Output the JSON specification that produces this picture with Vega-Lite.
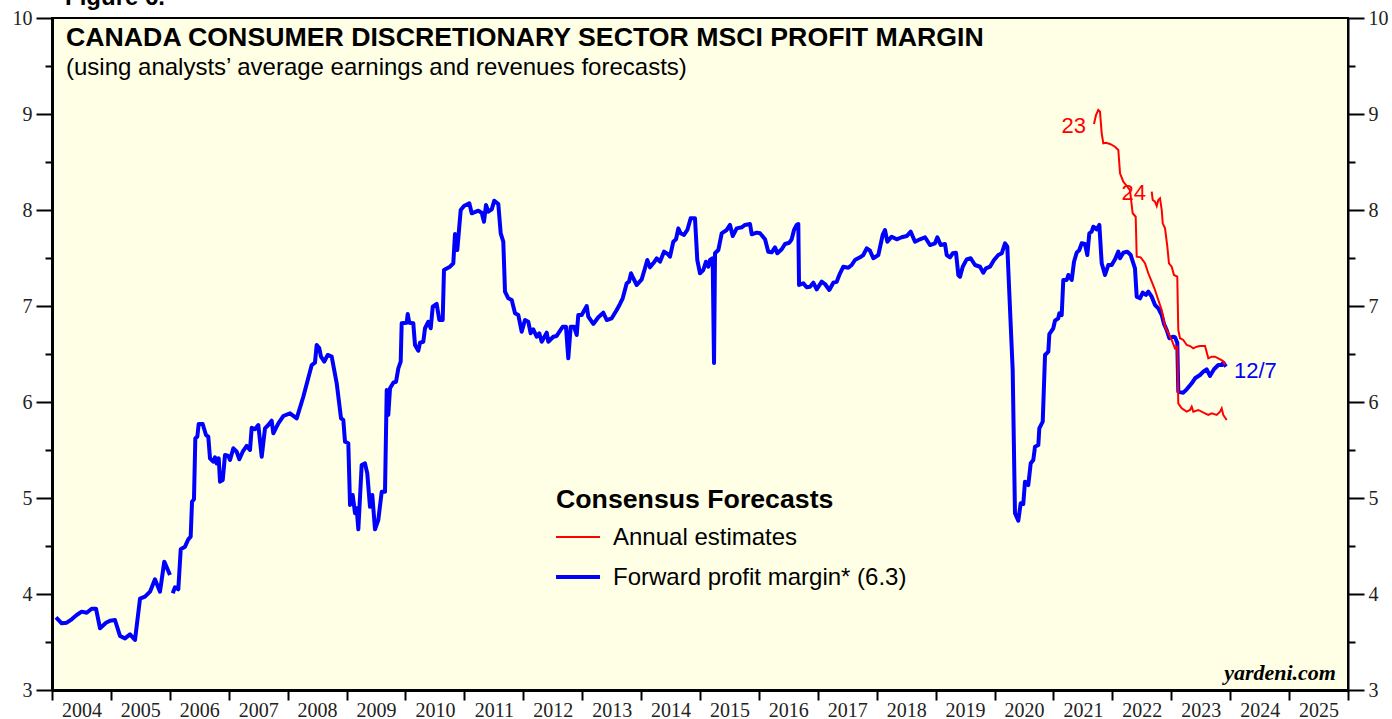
{
"$schema": "https://vega.github.io/schema/vega-lite/v6.json",
"width": 1296, "height": 672,
"autosize": "none",
"padding": {"left": 52, "top": 18, "right": 44, "bottom": 29},
"background": "white",
"view": {"fill": "#ffffe5", "stroke": "black", "strokeWidth": 2},
"config": {"font": "Liberation Sans", "axis": {"grid": false, "labelFont": "Liberation Serif", "labelFontSize": 20, "labelColor": "#222222", "tickColor": "black", "domainColor": "black"}},
"datasets": {
"fwd": [
{"t":2004.068,"v":3.757,"s":"a"},{"t":2004.165,"v":3.695,"s":"a"},{"t":2004.250,"v":3.701,"s":"a"},{"t":2004.334,"v":3.736,"s":"a"},{"t":2004.419,"v":3.781,"s":"a"},{"t":2004.504,"v":3.816,"s":"a"},{"t":2004.589,"v":3.805,"s":"a"},{"t":2004.674,"v":3.847,"s":"a"},{"t":2004.747,"v":3.847,"s":"a"},{"t":2004.815,"v":3.643,"s":"a"},{"t":2004.917,"v":3.701,"s":"a"},{"t":2004.985,"v":3.722,"s":"a"},{"t":2005.069,"v":3.729,"s":"a"},{"t":2005.154,"v":3.563,"s":"a"},{"t":2005.239,"v":3.538,"s":"a"},{"t":2005.324,"v":3.580,"s":"a"},{"t":2005.409,"v":3.521,"s":"a"},{"t":2005.494,"v":3.951,"s":"a"},{"t":2005.579,"v":3.972,"s":"a"},{"t":2005.664,"v":4.024,"s":"a"},{"t":2005.748,"v":4.153,"s":"a"},{"t":2005.833,"v":4.024,"s":"a"},{"t":2005.906,"v":4.337,"s":"a"},{"t":2006.003,"v":4.198,"s":"a"},
{"t":2006.049,"v":4.007,"s":"b"},{"t":2006.088,"v":4.070,"s":"b"},{"t":2006.144,"v":4.049,"s":"b"},{"t":2006.185,"v":4.466,"s":"b"},{"t":2006.258,"v":4.493,"s":"b"},{"t":2006.314,"v":4.570,"s":"b"},{"t":2006.354,"v":4.597,"s":"b"},{"t":2006.377,"v":4.961,"s":"b"},{"t":2006.410,"v":4.986,"s":"b"},{"t":2006.433,"v":5.622,"s":"b"},{"t":2006.467,"v":5.639,"s":"b"},{"t":2006.490,"v":5.771,"s":"b"},{"t":2006.558,"v":5.771,"s":"b"},{"t":2006.614,"v":5.656,"s":"b"},{"t":2006.653,"v":5.639,"s":"b"},{"t":2006.682,"v":5.414,"s":"b"},{"t":2006.738,"v":5.378,"s":"b"},{"t":2006.767,"v":5.424,"s":"b"},{"t":2006.796,"v":5.361,"s":"b"},{"t":2006.830,"v":5.414,"s":"b"},{"t":2006.852,"v":5.170,"s":"b"},{"t":2006.898,"v":5.188,"s":"b"},{"t":2006.937,"v":5.448,"s":"b"},{"t":2006.993,"v":5.438,"s":"b"},{"t":2007.022,"v":5.396,"s":"b"},{"t":2007.078,"v":5.518,"s":"b"},{"t":2007.135,"v":5.482,"s":"b"},{"t":2007.180,"v":5.403,"s":"b"},{"t":2007.237,"v":5.482,"s":"b"},{"t":2007.305,"v":5.542,"s":"b"},{"t":2007.361,"v":5.500,"s":"b"},{"t":2007.390,"v":5.732,"s":"b"},{"t":2007.446,"v":5.716,"s":"b"},{"t":2007.502,"v":5.760,"s":"b"},{"t":2007.560,"v":5.430,"s":"b"},{"t":2007.616,"v":5.726,"s":"b"},{"t":2007.672,"v":5.760,"s":"b"},{"t":2007.729,"v":5.805,"s":"b"},{"t":2007.757,"v":5.674,"s":"b"},{"t":2007.842,"v":5.778,"s":"b"},{"t":2007.926,"v":5.854,"s":"b"},{"t":2008.040,"v":5.882,"s":"b"},{"t":2008.154,"v":5.830,"s":"b"},{"t":2008.266,"v":6.055,"s":"b"},{"t":2008.409,"v":6.385,"s":"b"},{"t":2008.464,"v":6.409,"s":"b"},{"t":2008.493,"v":6.594,"s":"b"},{"t":2008.538,"v":6.559,"s":"b"},{"t":2008.566,"v":6.472,"s":"b"},{"t":2008.622,"v":6.420,"s":"b"},{"t":2008.680,"v":6.490,"s":"b"},{"t":2008.748,"v":6.472,"s":"b"},{"t":2008.833,"v":6.195,"s":"b"},{"t":2008.906,"v":5.830,"s":"b"},{"t":2008.945,"v":5.813,"s":"b"},{"t":2008.974,"v":5.586,"s":"b"},{"t":2009.030,"v":5.570,"s":"b"},{"t":2009.059,"v":4.927,"s":"b"},{"t":2009.104,"v":5.031,"s":"b"},{"t":2009.144,"v":4.841,"s":"b"},{"t":2009.172,"v":4.893,"s":"b"},{"t":2009.200,"v":4.674,"s":"b"},{"t":2009.257,"v":5.344,"s":"b"},{"t":2009.313,"v":5.361,"s":"b"},{"t":2009.352,"v":5.257,"s":"b"},{"t":2009.398,"v":4.909,"s":"b"},{"t":2009.437,"v":5.031,"s":"b"},{"t":2009.483,"v":4.674,"s":"b"},{"t":2009.539,"v":4.771,"s":"b"},{"t":2009.597,"v":5.066,"s":"b"},{"t":2009.653,"v":5.066,"s":"b"},{"t":2009.682,"v":6.125,"s":"b"},{"t":2009.709,"v":5.865,"s":"b"},{"t":2009.738,"v":6.143,"s":"b"},{"t":2009.794,"v":6.201,"s":"b"},{"t":2009.840,"v":6.211,"s":"b"},{"t":2009.879,"v":6.351,"s":"b"},{"t":2009.919,"v":6.420,"s":"b"},{"t":2009.936,"v":6.820,"s":"b"},{"t":2010.021,"v":6.826,"s":"b"},{"t":2010.038,"v":6.917,"s":"b"},{"t":2010.065,"v":6.826,"s":"b"},{"t":2010.133,"v":6.820,"s":"b"},{"t":2010.162,"v":6.594,"s":"b"},{"t":2010.218,"v":6.534,"s":"b"},{"t":2010.247,"v":6.618,"s":"b"},{"t":2010.303,"v":6.628,"s":"b"},{"t":2010.332,"v":6.768,"s":"b"},{"t":2010.388,"v":6.836,"s":"b"},{"t":2010.429,"v":6.768,"s":"b"},{"t":2010.463,"v":6.993,"s":"b"},{"t":2010.530,"v":7.021,"s":"b"},{"t":2010.575,"v":6.854,"s":"b"},{"t":2010.632,"v":6.854,"s":"b"},{"t":2010.654,"v":7.375,"s":"b"},{"t":2010.756,"v":7.409,"s":"b"},{"t":2010.812,"v":7.445,"s":"b"},{"t":2010.841,"v":7.750,"s":"b"},{"t":2010.880,"v":7.583,"s":"b"},{"t":2010.938,"v":8.000,"s":"b"},{"t":2010.994,"v":8.042,"s":"b"},{"t":2011.084,"v":8.070,"s":"b"},{"t":2011.125,"v":7.966,"s":"b"},{"t":2011.237,"v":7.993,"s":"b"},{"t":2011.294,"v":7.972,"s":"b"},{"t":2011.333,"v":7.878,"s":"b"},{"t":2011.367,"v":8.052,"s":"b"},{"t":2011.406,"v":7.982,"s":"b"},{"t":2011.464,"v":8.007,"s":"b"},{"t":2011.508,"v":8.097,"s":"b"},{"t":2011.576,"v":8.063,"s":"b"},{"t":2011.617,"v":7.757,"s":"b"},{"t":2011.661,"v":7.670,"s":"b"},{"t":2011.690,"v":7.149,"s":"b"},{"t":2011.746,"v":7.080,"s":"b"},{"t":2011.804,"v":7.063,"s":"b"},{"t":2011.860,"v":6.924,"s":"b"},{"t":2011.916,"v":6.906,"s":"b"},{"t":2011.973,"v":6.732,"s":"b"},{"t":2012.029,"v":6.854,"s":"b"},{"t":2012.085,"v":6.836,"s":"b"},{"t":2012.126,"v":6.716,"s":"b"},{"t":2012.170,"v":6.757,"s":"b"},{"t":2012.228,"v":6.680,"s":"b"},{"t":2012.272,"v":6.716,"s":"b"},{"t":2012.313,"v":6.628,"s":"b"},{"t":2012.398,"v":6.722,"s":"b"},{"t":2012.425,"v":6.628,"s":"b"},{"t":2012.510,"v":6.680,"s":"b"},{"t":2012.567,"v":6.688,"s":"b"},{"t":2012.669,"v":6.784,"s":"b"},{"t":2012.725,"v":6.784,"s":"b"},{"t":2012.764,"v":6.455,"s":"b"},{"t":2012.805,"v":6.784,"s":"b"},{"t":2012.861,"v":6.784,"s":"b"},{"t":2012.907,"v":6.698,"s":"b"},{"t":2012.934,"v":6.906,"s":"b"},{"t":2012.992,"v":6.906,"s":"b"},{"t":2013.077,"v":7.000,"s":"b"},{"t":2013.104,"v":6.889,"s":"b"},{"t":2013.189,"v":6.813,"s":"b"},{"t":2013.274,"v":6.882,"s":"b"},{"t":2013.359,"v":6.930,"s":"b"},{"t":2013.416,"v":6.854,"s":"b"},{"t":2013.501,"v":6.872,"s":"b"},{"t":2013.586,"v":6.958,"s":"b"},{"t":2013.642,"v":7.021,"s":"b"},{"t":2013.688,"v":7.080,"s":"b"},{"t":2013.756,"v":7.236,"s":"b"},{"t":2013.795,"v":7.253,"s":"b"},{"t":2013.829,"v":7.341,"s":"b"},{"t":2013.868,"v":7.289,"s":"b"},{"t":2013.926,"v":7.219,"s":"b"},{"t":2014.010,"v":7.278,"s":"b"},{"t":2014.066,"v":7.393,"s":"b"},{"t":2014.105,"v":7.479,"s":"b"},{"t":2014.151,"v":7.403,"s":"b"},{"t":2014.207,"v":7.445,"s":"b"},{"t":2014.265,"v":7.497,"s":"b"},{"t":2014.321,"v":7.461,"s":"b"},{"t":2014.389,"v":7.566,"s":"b"},{"t":2014.452,"v":7.542,"s":"b"},{"t":2014.491,"v":7.514,"s":"b"},{"t":2014.547,"v":7.670,"s":"b"},{"t":2014.593,"v":7.695,"s":"b"},{"t":2014.632,"v":7.809,"s":"b"},{"t":2014.672,"v":7.757,"s":"b"},{"t":2014.728,"v":7.740,"s":"b"},{"t":2014.785,"v":7.792,"s":"b"},{"t":2014.842,"v":7.914,"s":"b"},{"t":2014.915,"v":7.914,"s":"b"},{"t":2014.954,"v":7.479,"s":"b"},{"t":2015.000,"v":7.341,"s":"b"},{"t":2015.056,"v":7.375,"s":"b"},{"t":2015.102,"v":7.461,"s":"b"},{"t":2015.141,"v":7.409,"s":"b"},{"t":2015.170,"v":7.479,"s":"b"},{"t":2015.215,"v":7.497,"s":"b"},{"t":2015.238,"v":6.406,"s":"b"},{"t":2015.255,"v":7.549,"s":"b"},{"t":2015.311,"v":7.583,"s":"b"},{"t":2015.368,"v":7.757,"s":"b"},{"t":2015.453,"v":7.792,"s":"b"},{"t":2015.509,"v":7.844,"s":"b"},{"t":2015.555,"v":7.729,"s":"b"},{"t":2015.623,"v":7.809,"s":"b"},{"t":2015.708,"v":7.820,"s":"b"},{"t":2015.764,"v":7.844,"s":"b"},{"t":2015.849,"v":7.854,"s":"b"},{"t":2015.878,"v":7.747,"s":"b"},{"t":2015.963,"v":7.764,"s":"b"},{"t":2016.019,"v":7.757,"s":"b"},{"t":2016.104,"v":7.695,"s":"b"},{"t":2016.159,"v":7.566,"s":"b"},{"t":2016.217,"v":7.559,"s":"b"},{"t":2016.273,"v":7.611,"s":"b"},{"t":2016.312,"v":7.549,"s":"b"},{"t":2016.387,"v":7.591,"s":"b"},{"t":2016.443,"v":7.646,"s":"b"},{"t":2016.516,"v":7.659,"s":"b"},{"t":2016.556,"v":7.695,"s":"b"},{"t":2016.596,"v":7.792,"s":"b"},{"t":2016.641,"v":7.844,"s":"b"},{"t":2016.669,"v":7.854,"s":"b"},{"t":2016.681,"v":7.219,"s":"b"},{"t":2016.754,"v":7.236,"s":"b"},{"t":2016.811,"v":7.195,"s":"b"},{"t":2016.867,"v":7.201,"s":"b"},{"t":2016.924,"v":7.243,"s":"b"},{"t":2016.981,"v":7.174,"s":"b"},{"t":2017.066,"v":7.253,"s":"b"},{"t":2017.122,"v":7.229,"s":"b"},{"t":2017.195,"v":7.167,"s":"b"},{"t":2017.263,"v":7.243,"s":"b"},{"t":2017.320,"v":7.253,"s":"b"},{"t":2017.365,"v":7.323,"s":"b"},{"t":2017.433,"v":7.409,"s":"b"},{"t":2017.518,"v":7.399,"s":"b"},{"t":2017.575,"v":7.427,"s":"b"},{"t":2017.631,"v":7.479,"s":"b"},{"t":2017.716,"v":7.507,"s":"b"},{"t":2017.772,"v":7.531,"s":"b"},{"t":2017.830,"v":7.601,"s":"b"},{"t":2017.886,"v":7.576,"s":"b"},{"t":2017.942,"v":7.497,"s":"b"},{"t":2018.027,"v":7.531,"s":"b"},{"t":2018.101,"v":7.740,"s":"b"},{"t":2018.140,"v":7.792,"s":"b"},{"t":2018.180,"v":7.670,"s":"b"},{"t":2018.254,"v":7.722,"s":"b"},{"t":2018.339,"v":7.695,"s":"b"},{"t":2018.424,"v":7.716,"s":"b"},{"t":2018.509,"v":7.729,"s":"b"},{"t":2018.577,"v":7.774,"s":"b"},{"t":2018.650,"v":7.670,"s":"b"},{"t":2018.735,"v":7.695,"s":"b"},{"t":2018.820,"v":7.716,"s":"b"},{"t":2018.904,"v":7.635,"s":"b"},{"t":2018.989,"v":7.653,"s":"b"},{"t":2019.029,"v":7.716,"s":"b"},{"t":2019.086,"v":7.635,"s":"b"},{"t":2019.159,"v":7.646,"s":"b"},{"t":2019.188,"v":7.531,"s":"b"},{"t":2019.244,"v":7.507,"s":"b"},{"t":2019.290,"v":7.549,"s":"b"},{"t":2019.346,"v":7.555,"s":"b"},{"t":2019.385,"v":7.323,"s":"b"},{"t":2019.414,"v":7.305,"s":"b"},{"t":2019.460,"v":7.409,"s":"b"},{"t":2019.527,"v":7.486,"s":"b"},{"t":2019.595,"v":7.497,"s":"b"},{"t":2019.668,"v":7.427,"s":"b"},{"t":2019.753,"v":7.409,"s":"b"},{"t":2019.809,"v":7.347,"s":"b"},{"t":2019.855,"v":7.393,"s":"b"},{"t":2019.923,"v":7.409,"s":"b"},{"t":2019.991,"v":7.479,"s":"b"},{"t":2020.064,"v":7.531,"s":"b"},{"t":2020.122,"v":7.549,"s":"b"},{"t":2020.178,"v":7.653,"s":"b"},{"t":2020.217,"v":7.618,"s":"b"},{"t":2020.251,"v":7.132,"s":"b"},{"t":2020.308,"v":6.333,"s":"b"},{"t":2020.347,"v":4.841,"s":"b"},{"t":2020.403,"v":4.764,"s":"b"},{"t":2020.444,"v":4.945,"s":"b"},{"t":2020.488,"v":4.938,"s":"b"},{"t":2020.517,"v":5.170,"s":"b"},{"t":2020.573,"v":5.135,"s":"b"},{"t":2020.614,"v":5.361,"s":"b"},{"t":2020.658,"v":5.396,"s":"b"},{"t":2020.687,"v":5.534,"s":"b"},{"t":2020.743,"v":5.552,"s":"b"},{"t":2020.760,"v":5.726,"s":"b"},{"t":2020.818,"v":5.795,"s":"b"},{"t":2020.857,"v":6.490,"s":"b"},{"t":2020.913,"v":6.524,"s":"b"},{"t":2020.930,"v":6.708,"s":"b"},{"t":2020.997,"v":6.768,"s":"b"},{"t":2021.026,"v":6.847,"s":"b"},{"t":2021.082,"v":6.872,"s":"b"},{"t":2021.099,"v":6.924,"s":"b"},{"t":2021.140,"v":6.906,"s":"b"},{"t":2021.167,"v":7.271,"s":"b"},{"t":2021.225,"v":7.271,"s":"b"},{"t":2021.252,"v":7.323,"s":"b"},{"t":2021.310,"v":7.271,"s":"b"},{"t":2021.349,"v":7.461,"s":"b"},{"t":2021.394,"v":7.555,"s":"b"},{"t":2021.439,"v":7.583,"s":"b"},{"t":2021.479,"v":7.653,"s":"b"},{"t":2021.535,"v":7.646,"s":"b"},{"t":2021.575,"v":7.531,"s":"b"},{"t":2021.609,"v":7.757,"s":"b"},{"t":2021.649,"v":7.774,"s":"b"},{"t":2021.677,"v":7.826,"s":"b"},{"t":2021.734,"v":7.799,"s":"b"},{"t":2021.779,"v":7.844,"s":"b"},{"t":2021.819,"v":7.445,"s":"b"},{"t":2021.875,"v":7.323,"s":"b"},{"t":2021.931,"v":7.427,"s":"b"},{"t":2021.989,"v":7.427,"s":"b"},{"t":2022.045,"v":7.486,"s":"b"},{"t":2022.101,"v":7.566,"s":"b"},{"t":2022.130,"v":7.497,"s":"b"},{"t":2022.186,"v":7.555,"s":"b"},{"t":2022.254,"v":7.566,"s":"b"},{"t":2022.311,"v":7.531,"s":"b"},{"t":2022.384,"v":7.393,"s":"b"},{"t":2022.413,"v":7.097,"s":"b"},{"t":2022.469,"v":7.080,"s":"b"},{"t":2022.515,"v":7.139,"s":"b"},{"t":2022.571,"v":7.115,"s":"b"},{"t":2022.610,"v":7.149,"s":"b"},{"t":2022.668,"v":7.097,"s":"b"},{"t":2022.724,"v":7.010,"s":"b"},{"t":2022.780,"v":6.976,"s":"b"},{"t":2022.838,"v":6.906,"s":"b"},{"t":2022.877,"v":6.813,"s":"b"},{"t":2022.922,"v":6.750,"s":"b"},{"t":2022.967,"v":6.664,"s":"b"},{"t":2023.024,"v":6.680,"s":"b"},{"t":2023.063,"v":6.674,"s":"b"},{"t":2023.102,"v":6.618,"s":"b"},{"t":2023.119,"v":6.107,"s":"b"},{"t":2023.204,"v":6.097,"s":"b"},{"t":2023.262,"v":6.132,"s":"b"},{"t":2023.347,"v":6.195,"s":"b"},{"t":2023.403,"v":6.247,"s":"b"},{"t":2023.488,"v":6.281,"s":"b"},{"t":2023.544,"v":6.316,"s":"b"},{"t":2023.601,"v":6.341,"s":"b"},{"t":2023.657,"v":6.271,"s":"b"},{"t":2023.725,"v":6.341,"s":"b"},{"t":2023.798,"v":6.385,"s":"b"},{"t":2023.856,"v":6.385,"s":"b"},{"t":2023.883,"v":6.409,"s":"b"},{"t":2023.929,"v":6.368,"s":"b"}
],
"est": [
{"t":2021.688,"v":8.896,"yr":"2023"},{"t":2021.722,"v":8.990,"yr":"2023"},{"t":2021.761,"v":9.042,"yr":"2023"},{"t":2021.790,"v":9.024,"yr":"2023"},{"t":2021.819,"v":8.799,"yr":"2023"},{"t":2021.846,"v":8.695,"yr":"2023"},{"t":2021.892,"v":8.701,"yr":"2023"},{"t":2021.960,"v":8.688,"yr":"2023"},{"t":2022.045,"v":8.659,"yr":"2023"},{"t":2022.101,"v":8.625,"yr":"2023"},{"t":2022.130,"v":8.382,"yr":"2023"},{"t":2022.186,"v":8.295,"yr":"2023"},{"t":2022.244,"v":8.250,"yr":"2023"},{"t":2022.299,"v":8.208,"yr":"2023"},{"t":2022.345,"v":7.966,"yr":"2023"},{"t":2022.396,"v":7.930,"yr":"2023"},{"t":2022.413,"v":7.514,"yr":"2023"},{"t":2022.481,"v":7.507,"yr":"2023"},{"t":2022.554,"v":7.445,"yr":"2023"},{"t":2022.610,"v":7.341,"yr":"2023"},{"t":2022.668,"v":7.253,"yr":"2023"},{"t":2022.724,"v":7.167,"yr":"2023"},{"t":2022.780,"v":7.063,"yr":"2023"},{"t":2022.838,"v":6.958,"yr":"2023"},{"t":2022.894,"v":6.784,"yr":"2023"},{"t":2022.950,"v":6.716,"yr":"2023"},{"t":2023.007,"v":6.646,"yr":"2023"},{"t":2023.063,"v":6.559,"yr":"2023"},{"t":2023.102,"v":6.576,"yr":"2023"},{"t":2023.119,"v":5.986,"yr":"2023"},{"t":2023.177,"v":5.934,"yr":"2023"},{"t":2023.262,"v":5.899,"yr":"2023"},{"t":2023.318,"v":5.917,"yr":"2023"},{"t":2023.347,"v":5.951,"yr":"2023"},{"t":2023.374,"v":5.899,"yr":"2023"},{"t":2023.459,"v":5.917,"yr":"2023"},{"t":2023.573,"v":5.882,"yr":"2023"},{"t":2023.629,"v":5.865,"yr":"2023"},{"t":2023.687,"v":5.882,"yr":"2023"},{"t":2023.771,"v":5.865,"yr":"2023"},{"t":2023.828,"v":5.899,"yr":"2023"},{"t":2023.856,"v":5.934,"yr":"2023"},{"t":2023.883,"v":5.865,"yr":"2023"},{"t":2023.941,"v":5.813,"yr":"2023"},
{"t":2022.668,"v":8.191,"yr":"2024"},{"t":2022.685,"v":8.104,"yr":"2024"},{"t":2022.724,"v":8.087,"yr":"2024"},{"t":2022.753,"v":8.042,"yr":"2024"},{"t":2022.780,"v":8.104,"yr":"2024"},{"t":2022.809,"v":8.122,"yr":"2024"},{"t":2022.838,"v":8.000,"yr":"2024"},{"t":2022.855,"v":7.861,"yr":"2024"},{"t":2022.894,"v":7.809,"yr":"2024"},{"t":2022.933,"v":7.618,"yr":"2024"},{"t":2022.961,"v":7.445,"yr":"2024"},{"t":2023.007,"v":7.409,"yr":"2024"},{"t":2023.046,"v":7.323,"yr":"2024"},{"t":2023.102,"v":7.305,"yr":"2024"},{"t":2023.119,"v":6.750,"yr":"2024"},{"t":2023.148,"v":6.664,"yr":"2024"},{"t":2023.204,"v":6.646,"yr":"2024"},{"t":2023.262,"v":6.594,"yr":"2024"},{"t":2023.318,"v":6.583,"yr":"2024"},{"t":2023.374,"v":6.559,"yr":"2024"},{"t":2023.432,"v":6.576,"yr":"2024"},{"t":2023.488,"v":6.583,"yr":"2024"},{"t":2023.573,"v":6.583,"yr":"2024"},{"t":2023.629,"v":6.455,"yr":"2024"},{"t":2023.687,"v":6.472,"yr":"2024"},{"t":2023.743,"v":6.472,"yr":"2024"},{"t":2023.828,"v":6.445,"yr":"2024"},{"t":2023.873,"v":6.430,"yr":"2024"},{"t":2023.912,"v":6.385,"yr":"2024"}
]
},
"layer": [
{
"data": {"name": "fwd"},
"mark": {"type": "line", "color": "#0000ff", "strokeWidth": 4, "strokeJoin": "round"},
"encoding": {
"x": {"field": "t", "type": "quantitative", "scale": {"domain": [2004, 2026], "nice": false, "zero": false},
 "axis": {"orient": "bottom", "title": null, "values": [2004,2005,2006,2007,2008,2009,2010,2011,2012,2013,2014,2015,2016,2017,2018,2019,2020,2021,2022,2023,2024,2025,2026], "format": "d", "labelExpr": "datum.value < 2026 ? datum.label : ''", "labelOffset": 29.45, "labelAlign": "center", "tickSize": 10, "tickWidth": 2, "labelPadding": 0, "domainWidth": 3, "labelFlush": false, "labelOverlap": false, "labelBound": false}},
"y": {"field": "v", "type": "quantitative", "scale": {"domain": [3, 10], "nice": false, "zero": false},
 "axis": {"orient": "left", "title": null, "values": [3,4,5,6,7,8,9,10], "format": "d", "tickSize": 16, "tickWidth": 2, "labelPadding": 4, "domainWidth": 3}},
"detail": {"field": "s"}
}
},
{
"data": {"name": "est"},
"mark": {"type": "line", "color": "#ff0000", "strokeWidth": 2},
"encoding": {
"x": {"field": "t", "type": "quantitative", "axis": null},
"y": {"field": "v", "type": "quantitative", "axis": {"orient": "right", "title": null, "values": [3,4,5,6,7,8,9,10], "format": "d", "tickSize": 16, "tickWidth": 2, "labelPadding": 4, "domainWidth": 2}},
"detail": {"field": "yr"}
}
},
{
"data": {"values": [{"t": 2021.552, "v": 8.802, "label": "23"}, {"t": 2022.571, "v": 8.104, "label": "24"}]},
"mark": {"type": "text", "color": "#ff0000", "fontSize": 22, "align": "right", "baseline": "alphabetic"},
"encoding": {
"x": {"field": "t", "type": "quantitative", "axis": null},
"y": {"field": "v", "type": "quantitative", "axis": {"orient": "left", "title": null, "values": [3.5,4.5,5.5,6.5,7.5,8.5,9.5], "tickSize": 7, "tickWidth": 2, "labels": false, "domain": false}},
"text": {"field": "label"}
}
},
{
"data": {"values": [{"t": 2024.065, "v": 6.25, "label": "12/7"}]},
"mark": {"type": "text", "color": "#0000ff", "fontSize": 22, "align": "left", "baseline": "alphabetic"},
"encoding": {
"x": {"field": "t", "type": "quantitative", "axis": null},
"y": {"field": "v", "type": "quantitative", "axis": {"orient": "right", "title": null, "values": [3.5,4.5,5.5,6.5,7.5,8.5,9.5], "tickSize": 7, "tickWidth": 2, "labels": false, "domain": false}},
"text": {"field": "label"}
}
},
{
"data": {"values": [{"t": 2004.238, "v": 9.708, "label": "CANADA CONSUMER DISCRETIONARY SECTOR MSCI PROFIT MARGIN"}, {"t": 2012.556, "v": 4.896, "label": "Consensus Forecasts"}]},
"mark": {"type": "text", "color": "black", "fontSize": 26.7, "fontWeight": "bold", "align": "left", "baseline": "alphabetic"},
"encoding": {
"x": {"field": "t", "type": "quantitative", "axis": null},
"y": {"field": "v", "type": "quantitative", "axis": null},
"text": {"field": "label"}
}
},
{
"data": {"values": [{"t": 2004.238, "v": 9.406, "label": "(using analysts\u2019 average earnings and revenues forecasts)"}, {"t": 2013.523, "v": 4.510, "label": "Annual estimates"}, {"t": 2013.523, "v": 4.094, "label": "Forward profit margin* (6.3)"}]},
"mark": {"type": "text", "color": "black", "fontSize": 24, "align": "left", "baseline": "alphabetic"},
"encoding": {
"x": {"field": "t", "type": "quantitative", "axis": null},
"y": {"field": "v", "type": "quantitative", "axis": null},
"text": {"field": "label"}
}
},
{
"data": {"values": [{"t": 2012.556, "t2": 2013.303, "v": 4.594}]},
"mark": {"type": "rule", "color": "#ff0000", "strokeWidth": 2},
"encoding": {
"x": {"field": "t", "type": "quantitative", "axis": null},
"x2": {"field": "t2"},
"y": {"field": "v", "type": "quantitative", "axis": null}
}
},
{
"data": {"values": [{"t": 2012.556, "t2": 2013.303, "v": 4.177}]},
"mark": {"type": "rule", "color": "#0000ff", "strokeWidth": 4},
"encoding": {
"x": {"field": "t", "type": "quantitative", "axis": null},
"x2": {"field": "t2"},
"y": {"field": "v", "type": "quantitative", "axis": null}
}
},
{
"data": {"values": [{"t": 2025.796, "v": 3.104, "label": "yardeni.com"}]},
"mark": {"type": "text", "color": "black", "font": "Liberation Serif", "fontSize": 22, "fontWeight": "bold", "fontStyle": "italic", "align": "right", "baseline": "alphabetic"},
"encoding": {
"x": {"field": "t", "type": "quantitative", "axis": null},
"y": {"field": "v", "type": "quantitative", "axis": null},
"text": {"field": "label"}
}
},
{
"data": {"values": [{"t": 2004.221, "v": 10.135, "label": "Figure 6."}]},
"mark": {"type": "text", "color": "black", "fontSize": 24, "fontWeight": "bold", "align": "left", "baseline": "alphabetic", "clip": false},
"encoding": {
"x": {"field": "t", "type": "quantitative", "axis": null},
"y": {"field": "v", "type": "quantitative", "axis": null},
"text": {"field": "label"}
}
}
],
"resolve": {"axis": {"x": "independent", "y": "independent"}}
}
